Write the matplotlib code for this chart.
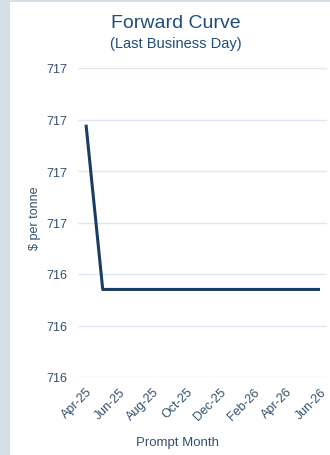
import matplotlib
matplotlib.use("Agg")
import matplotlib.pyplot as plt
from matplotlib.patches import Rectangle
from matplotlib.ticker import FuncFormatter

plt.rcParams['font.family'] = ['Liberation Sans', 'DejaVu Sans']

# forward curve, $ per tonne by prompt month
months = ['Apr-25', 'May-25', 'Jun-25', 'Jul-25', 'Aug-25', 'Sep-25', 'Oct-25',
          'Nov-25', 'Dec-25', 'Jan-26', 'Feb-26', 'Mar-26', 'Apr-26', 'May-26', 'Jun-26']
prices = [716.98, 716.34, 716.34, 716.34, 716.34, 716.34, 716.34,
          716.34, 716.34, 716.34, 716.34, 716.34, 716.34, 716.34, 716.34]
y_ticks = [716.0, 716.2, 716.4, 716.6, 716.8, 717.0, 717.2]

text_col = '#34506e'
title_col = '#1f4e79'
line_col = '#1a3d63'
grid_col = '#dde8f3'

fig = plt.figure(figsize=(3.30, 4.56), dpi=100)
fig.patch.set_facecolor('#d5dfe8')
fig.add_artist(Rectangle((10 / 330, 0), 1 - 10 / 330, 1 - 3 / 456,
                         transform=fig.transFigure, facecolor='white',
                         edgecolor='none', zorder=0))

ax = fig.add_axes([78 / 330, 1 - 378 / 456, (327 - 78) / 330, (378 - 69) / 456])
ax.set_facecolor('none')

x = list(range(len(months)))
ax.plot(x, prices, color=line_col, linewidth=2.2, solid_capstyle='butt')

ax.set_ylim(716.0, 717.2)
ax.set_xlim(-0.48, 14.42)
ax.set_yticks(y_ticks)
ax.yaxis.set_major_formatter(FuncFormatter(lambda v, p: '{:.0f}'.format(v)))
ax.set_xticks(x[::2])
ax.set_xticklabels(months[::2], rotation=45, ha='right', rotation_mode='anchor')

ax.grid(axis='y', color=grid_col, linewidth=1)
ax.set_axisbelow(True)
for s in ax.spines.values():
    s.set_visible(False)
ax.tick_params(axis='both', length=0, labelsize=9, labelcolor=text_col)
ax.tick_params(axis='y', pad=8)
ax.tick_params(axis='x', pad=6)

fig.text(35 / 330, 1 - 218 / 456, '$ per tonne', ha='center', va='center',
         rotation=90, fontsize=9, color=text_col)
fig.text(178 / 330, 1 - 443 / 456, 'Prompt Month', ha='center', va='center',
         fontsize=9.5, color=text_col)

fig.text(176 / 330, 1 - 24 / 456, 'Forward Curve', ha='center', va='center',
         fontsize=14, color=title_col)
fig.text(176 / 330, 1 - 44 / 456, '(Last Business Day)', ha='center', va='center',
         fontsize=10.5, color=title_col)

fig.savefig('out.png', dpi=100, facecolor=fig.get_facecolor())
